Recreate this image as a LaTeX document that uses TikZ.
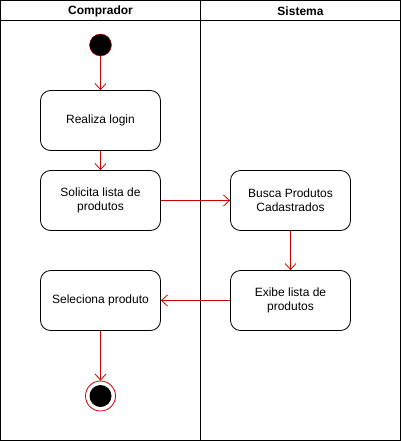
\documentclass[tikz,border=0pt]{standalone}
\usepackage{fontspec}
\setmainfont{Liberation Sans}
\usepackage{xcolor}
\usepackage{tikz}
\usetikzlibrary{arrows.meta}
\definecolor{fluxo}{HTML}{CC0000}
\tikzset{
	atividade/.style={draw,rounded corners=10pt,minimum width=120pt,minimum height=60pt,
		align=center,font=\fontsize{12pt}{14pt}\selectfont,line width=0.8pt},
	seta/.style={draw=fluxo,line width=0.8pt,-{Straight Barb[length=6pt,width=11pt]}},
	raia/.style={font=\bfseries\fontsize{12pt}{14pt}\selectfont}
}

\begin{document}
\begin{tikzpicture}[x=1pt,y=-1pt]
					\useasboundingbox (0,0) rectangle (401,441);
					\draw[line width=0.8pt] (0.5,0.5) rectangle (400.5,440.5);
					\draw[line width=0.8pt] (0.5,20.5)--(400.5,20.5);
					\draw[line width=0.8pt] (200.5,0.5)--(200.5,440.5);
					\node[raia] (comprador) at (100.5,11) {Comprador};
					\node[raia] (sistema) at (300.5,11) {Sistema};
					\node[circle,fill=black,draw=fluxo,minimum size=22pt,inner sep=0pt] (inicio) at (100.5,45) {};
					\node[atividade] (login) at (100.5,120.5) {Realiza login};
					\node[atividade] (solicita) at (100.5,200.5) {Solicita lista de\\produtos};
					\node[atividade] (busca) at (290.5,200.5) {Busca Produtos\\Cadastrados};
					\node[atividade] (exibe) at (290.5,300.5) {Exibe lista de\\produtos};
					\node[atividade] (seleciona) at (100.5,300.5) {Seleciona produto};
					\node[circle,fill=white,draw=fluxo,minimum size=30pt,inner sep=0pt,line width=0.8pt] (fim) at (100.5,396) {};
					\node[circle,fill=black,minimum size=22pt,inner sep=0pt] (fimint) at (fim) {};
					\draw[seta] (inicio)--(login);
					\draw[seta] (login)--(solicita);
					\draw[seta] (solicita)--(busca);
					\draw[seta] (busca)--(exibe);
					\draw[seta] (exibe)--(seleciona);
					\draw[seta] (seleciona)--(fim);
				\end{tikzpicture}
\end{document}
